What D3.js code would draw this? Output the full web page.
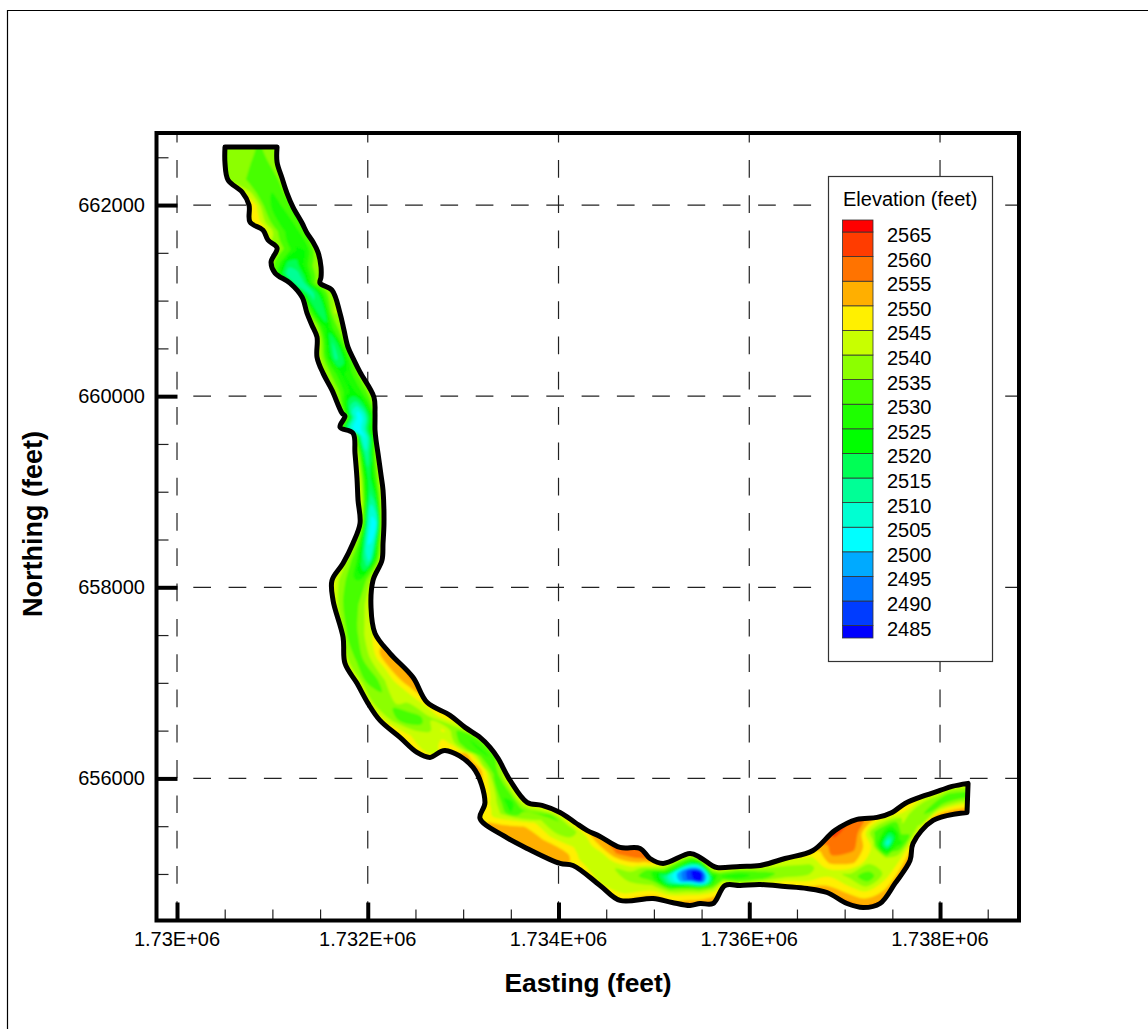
<!DOCTYPE html>
<html>
<head>
<meta charset="utf-8">
<script src="https://d3js.org/d3.v7.min.js"></script>
<style>
  html, body { margin: 0; padding: 0; background: #fff; }
  svg { display: block; }
  text { font-family: "Liberation Sans", Arial, sans-serif; fill: #000; }
</style>
</head>
<body>
<div id="chart"></div>
<script>
// tick values + labels
var xMajor = [1730000, 1732000, 1734000, 1736000, 1738000]
var xMajorLabels = ["1.73E+06", "1.732E+06", "1.734E+06", "1.736E+06", "1.738E+06"]
var xMinor = [1730500, 1731000, 1731500, 1732500, 1733000, 1733500, 1734500, 1735000, 1735500, 1736500, 1737000, 1737500, 1738500]
var yMajor = [662000, 660000, 658000, 656000]
var yMinor = [662500, 661500, 661000, 660500, 659500, 659000, 658500, 657500, 657000, 656500, 655500, 655000]

// legend: contour levels, band colours run low -> high (one more colour than levels)
var levels = [2485, 2490, 2495, 2500, 2505, 2510, 2515, 2520, 2525, 2530, 2535, 2540, 2545, 2550, 2555, 2560, 2565]
var bandColors = ["#0000ff", "#003cff", "#0078ff", "#00aaff", "#00ffff", "#00ffd2", "#00ff96", "#00ff55", "#00ff00", "#1eff00",
                  "#46ff00", "#8cff00", "#c8ff00", "#fff000", "#ffaf00", "#ff7300", "#ff3c00", "#ff0000"]

// river banks at each cross section, going downstream (feet)
var leftEast = [1730503,1730503,1730535,1730682,1730755,1730765,1730902,1730954,1731049,1730986,1731028,1731185,1731311,1731363,1731415,1731468,1731468,
  1731531,1731625,1731730,1731761,1731709,1731845,1731866,1731887,1731898,1731919,1731845,1731741,1731625,1731636,1731741,1731761,1731887,
  1732003,1732128,1732338,1732516,1732653,1732810,1733104,1733229,1733177,1733418,1733670,1734016,1734152,1734435,1734645,1734991,1735190,
  1735379,1735484,1735620,1735746,1735903,1736113,1736375,1736606,1736815,1737025,1737193,1737371,1737528,1737686,1737717,1737927,1738283]
var leftNorth = [662607,662440,662262,662136,662000,661822,661738,661634,661550,661403,661288,661183,661037,660869,660743,660618,660408,
  660241,660063,659822,659791,659675,659613,659403,659141,658911,658670,658461,658251,658073,657864,657477,657204,656995,
  656785,656607,656429,656272,656220,656293,656115,655749,655581,655403,655267,655110,655089,654880,654723,654744,654702,
  654670,654691,654691,654880,654880,654890,654869,654848,654806,654691,654649,654691,654901,655142,655320,655560,655644]
var rightEast = [1731049,1731049,1731101,1731153,1731216,1731311,1731363,1731426,1731478,1731510,1731510,1731499,1731625,1731709,1731751,1731793,1731856,
  1731919,1732065,1732076,1732076,1732076,1732087,1732107,1732139,1732160,1732170,1732160,1732149,1732055,1732034,1732076,1732233,1732474,
  1732621,1732862,1733020,1733177,1733282,1733366,1733492,1733670,1733827,1734016,1734173,1734299,1734435,1734645,1734855,1734959,1735096,
  1735379,1735484,1735609,1735662,1735903,1736113,1736375,1736668,1736899,1737130,1737340,1737497,1737633,1737843,1738000,1738126,1738294]
var rightNorth = [662607,662450,662283,662126,661979,661812,661707,661613,661508,661351,661246,661183,661110,660869,660691,660513,660377,
  660251,659990,659822,659749,659644,659539,659403,659173,659016,658670,658461,658283,658073,657791,657518,657309,657058,
  656796,656660,656534,656429,656325,656210,655979,655749,655717,655644,655539,655456,655393,655278,655267,655162,655110,
  655215,655173,655089,655068,655079,655089,655162,655246,655456,655571,655592,655644,655738,655822,655874,655916,655948]

// bed elevation (feet) at 7 stations across each cross section, left bank -> right bank
var elevation = [
  [2538,2535,2538,2536,2534,2537,2538],
  [2539,2535,2538,2535,2533,2535,2537],
  [2540,2536,2535,2532,2531,2533,2537],
  [2546,2541,2534,2531,2530,2532,2537],
  [2549,2545,2535,2530,2529,2531,2536],
  [2549,2547,2538,2531,2528,2530,2535],
  [2547,2542,2535,2530,2528,2530,2535],
  [2542,2538,2533,2527,2526,2530,2538],
  [2538,2535,2530,2524,2525,2532,2540],
  [2538,2531,2518,2518,2526,2535,2542],
  [2535,2520,2510,2513,2522,2533,2540],
  [2530,2514,2510,2516,2526,2535,2540],
  [2535,2520,2513,2518,2529,2536,2540],
  [2540,2530,2520,2515,2530,2540,2540],
  [2543,2537,2527,2523,2530,2535,2538],
  [2544,2535,2524,2515,2520,2530,2538],
  [2544,2536,2525,2514,2517,2528,2537],
  [2542,2536,2530,2524,2526,2532,2538],
  [2540,2535,2527,2523,2526,2533,2540],
  [2540,2524,2508,2503,2510,2523,2535],
  [2540,2522,2507,2502,2508,2522,2534],
  [2541,2520,2506,2502,2507,2522,2532],
  [2542,2525,2509,2504,2511,2525,2535],
  [2545,2537,2520,2511,2518,2532,2542],
  [2546,2540,2526,2518,2525,2535,2545],
  [2546,2540,2524,2514,2520,2535,2546],
  [2543,2530,2510,2502,2504,2530,2545],
  [2542,2535,2520,2504,2506,2530,2545],
  [2543,2536,2530,2518,2510,2530,2546],
  [2548,2540,2535,2532,2530,2535,2543],
  [2547,2538,2533,2532,2535,2540,2543],
  [2541,2534,2530,2536,2540,2543,2546],
  [2544,2537,2533,2538,2544,2552,2553],
  [2546,2535,2533,2540,2546,2553,2556],
  [2546,2535,2537,2541,2540,2543,2548],
  [2548,2539,2531,2531,2538,2545,2547],
  [2548,2545,2542,2541,2546,2536,2544],
  [2547,2544,2545,2548,2535,2530,2538],
  [2548,2545,2546,2550,2534,2529,2538],
  [2552,2556,2553,2545,2535,2530,2538],
  [2557,2552,2546,2536,2533,2540,2545],
  [2547,2544,2538,2529,2530,2540,2546],
  [2549,2546,2540,2530,2534,2542,2547],
  [2553,2553,2551,2547,2540,2533,2549],
  [2553,2554,2550,2544,2537,2537,2550],
  [2554,2553,2549,2545,2542,2542,2551],
  [2548,2546,2543,2542,2544,2550,2554],
  [2546,2543,2540,2541,2546,2555,2557],
  [2550,2544,2541,2537,2546,2556,2558],
  [2553,2546,2540,2532,2531,2546,2556],
  [2551,2546,2536,2515,2512,2535,2548],
  [2553,2548,2534,2487,2486,2524,2548],
  [2553,2547,2533,2482,2480,2516,2547],
  [2553,2550,2543,2530,2520,2535,2546],
  [2547,2542,2535,2530,2535,2542,2547],
  [2546,2538,2531,2528,2531,2538,2545],
  [2546,2540,2533,2532,2535,2540,2545],
  [2550,2546,2540,2537,2538,2543,2546],
  [2552,2546,2541,2537,2541,2545,2552],
  [2555,2547,2543,2552,2557,2559,2562],
  [2557,2547,2538,2552,2556,2558,2558],
  [2556,2546,2531,2541,2544,2534,2550],
  [2556,2548,2541,2540,2505,2528,2550],
  [2553,2548,2542,2528,2538,2542,2550],
  [2556,2551,2546,2541,2536,2536,2546],
  [2554,2548,2542,2537,2533,2537,2546],
  [2556,2549,2541,2534,2531,2537,2545],
  [2557,2550,2542,2534,2532,2538,2545]
]

var width = 1148, height = 1029
var frame = {left: 156.5, right: 1019, top: 133, bottom: 920.5}

var x = d3.scaleLinear().domain([1729785, 1738828]).range([frame.left, frame.right])
var y = d3.scaleLinear().domain([654513, 662754]).range([frame.bottom, frame.top])

var svg = d3.select("#chart").append("svg")
  .attr("width", width)
  .attr("height", height)

// page border, only top and left show in the picture
svg.append("path")
  .attr("d", d3.line()([[width, 10.5], [7.5, 10.5], [7.5, height]]))
  .attr("fill", "none")
  .attr("stroke", "#000")
  .attr("stroke-width", 1.2)

// dashed grid
svg.append("g").selectAll("line").data(xMajor).enter().append("line")
  .attr("x1", function(d){ return x(d) })
  .attr("x2", function(d){ return x(d) })
  .attr("y1", frame.bottom - 1.5)
  .attr("y2", frame.top)
  .attr("stroke", "#222")
  .attr("stroke-width", 1.2)
  .attr("stroke-dasharray", "17.7 17.6")

svg.append("g").selectAll("line").data(yMajor).enter().append("line")
  .attr("y1", function(d){ return y(d) })
  .attr("y2", function(d){ return y(d) })
  .attr("x1", frame.left + 1.5)
  .attr("x2", frame.right)
  .attr("stroke", "#222")
  .attr("stroke-width", 1.2)
  .attr("stroke-dasharray", "17.7 17.6")

// curvilinear mesh: grid position -> bank-to-bank position in feet -> pixels
var nx = elevation[0].length, ny = elevation.length

function meshPoint(p){
  var u = Math.max(0, Math.min(nx - 1, p[0] - 0.5)) / (nx - 1)
  var v = Math.max(0, Math.min(ny - 1, p[1] - 0.5))
  var j = Math.min(ny - 2, Math.floor(v)), t = v - j
  var e = d3.interpolateNumber(
    leftEast[j] + (rightEast[j] - leftEast[j]) * u,
    leftEast[j + 1] + (rightEast[j + 1] - leftEast[j + 1]) * u)(t)
  var n = d3.interpolateNumber(
    leftNorth[j] + (rightNorth[j] - leftNorth[j]) * u,
    leftNorth[j + 1] + (rightNorth[j + 1] - leftNorth[j + 1]) * u)(t)
  return [x(e), y(n)]
}

// bank outline: each bank as a smooth line, straight across both ends
var bankCurve = d3.line().curve(d3.curveCatmullRom.alpha(0.5))
var leftPts = leftEast.map(function(d, i){ return [x(d), y(leftNorth[i])] })
var rightPts = rightEast.map(function(d, i){ return [x(d), y(rightNorth[i])] }).reverse()
var bankPath = bankCurve(leftPts) + bankCurve(rightPts).replace("M", "L") + "Z"

svg.append("clipPath").attr("id", "river")
  .append("path").attr("d", bankPath)

var blur = svg.append("filter").attr("id", "soft")
  .attr("x", "-5%").attr("y", "-5%").attr("width", "110%").attr("height", "110%")
blur.append("feGaussianBlur").attr("stdDeviation", 0.8)

var bands = svg.append("g").attr("clip-path", "url(#river)")
  .append("g").attr("filter", "url(#soft)")

// where the smoothed bank bulges past the mesh, show the usual bank colour
bands.append("path")
  .attr("d", bankPath)
  .attr("fill", bandColors[13])
  .attr("stroke", bandColors[13])
  .attr("stroke-width", 4)

// first threshold sits below every value so the whole mesh gets the deepest colour
var contours = d3.contours().size([nx, ny]).thresholds([2400].concat(levels))(d3.merge(elevation))
var ringLine = d3.line().curve(d3.curveCatmullRomClosed.alpha(0.5))

bands.selectAll(".band").data(contours).enter().append("path")
  .attr("class", "band")
  .attr("fill-rule", "evenodd")
  .attr("fill", function(d, i){ return bandColors[i] })
  .attr("d", function(d){
    var out = ""
    d.coordinates.forEach(function(polygon){
      polygon.forEach(function(ring){
        out += ringLine(ring.slice(0, -1).map(meshPoint))
      })
    })
    return out
  })

svg.append("path")
  .attr("d", bankPath)
  .attr("fill", "none")
  .attr("stroke", "#000")
  .attr("stroke-width", 5)
  .attr("stroke-linejoin", "round")

// axes
var xAxisMinor = svg.append("g").attr("transform", "translate(0," + frame.bottom + ")")
  .call(d3.axisTop(x).tickValues(xMinor).tickSize(11).tickFormat(""))
var xAxisMajor = svg.append("g").attr("transform", "translate(0," + frame.bottom + ")")
  .call(d3.axisTop(x).tickValues(xMajor).tickSize(18).tickFormat(""))
var yAxisMinor = svg.append("g").attr("transform", "translate(" + frame.left + ",0)")
  .call(d3.axisRight(y).tickValues(yMinor).tickSize(12).tickFormat(""))
var yAxisMajor = svg.append("g").attr("transform", "translate(" + frame.left + ",0)")
  .call(d3.axisRight(y).tickValues(yMajor).tickSize(21).tickFormat(""))

;[xAxisMinor, xAxisMajor, yAxisMinor, yAxisMajor].forEach(function(a){ a.select(".domain").remove() })
xAxisMinor.selectAll("line").attr("stroke", "#222").attr("stroke-width", 1.2)
yAxisMinor.selectAll("line").attr("stroke", "#222").attr("stroke-width", 1.2)
xAxisMajor.selectAll("line").attr("stroke", "#000").attr("stroke-width", 4)
yAxisMajor.selectAll("line").attr("stroke", "#000").attr("stroke-width", 4)

svg.append("g").selectAll("text").data(xMajor).enter().append("text")
  .attr("x", function(d){ return x(d) })
  .attr("y", 946)
  .attr("text-anchor", "middle")
  .attr("font-size", 20)
  .text(function(d, i){ return xMajorLabels[i] })

svg.append("g").selectAll("text").data(yMajor).enter().append("text")
  .attr("x", 145)
  .attr("y", function(d){ return y(d) + 7 })
  .attr("text-anchor", "end")
  .attr("font-size", 20)
  .text(function(d){ return d })

svg.append("text")
  .attr("x", 588)
  .attr("y", 992)
  .attr("text-anchor", "middle")
  .attr("font-size", 26.4)
  .attr("font-weight", "bold")
  .text("Easting (feet)")

svg.append("text")
  .attr("transform", "translate(42,524) rotate(-90)")
  .attr("text-anchor", "middle")
  .attr("font-size", 27)
  .attr("font-weight", "bold")
  .text("Northing (feet)")

// frame
svg.append("rect")
  .attr("x", frame.left)
  .attr("y", frame.top)
  .attr("width", frame.right - frame.left)
  .attr("height", frame.bottom - frame.top)
  .attr("fill", "none")
  .attr("stroke", "#000")
  .attr("stroke-width", 4)

// legend
var legend = svg.append("g")
var legendY = d3.scaleLinear().domain([2565, 2485]).range([232, 625.6])

legend.append("rect")
  .attr("x", 828.5).attr("y", 176.5)
  .attr("width", 164).attr("height", 485)
  .attr("fill", "#fff")
  .attr("stroke", "#333")
  .attr("stroke-width", 1.2)

legend.append("text")
  .attr("x", 843).attr("y", 206)
  .attr("font-size", 20)
  .text("Elevation (feet)")

var swatchEdges = [638].concat(levels.map(legendY)).concat([220])

legend.selectAll(".swatch").data(bandColors).enter().append("rect")
  .attr("class", "swatch")
  .attr("x", 842.5)
  .attr("width", 30.5)
  .attr("y", function(d, i){ return swatchEdges[i + 1] })
  .attr("height", function(d, i){ return swatchEdges[i] - swatchEdges[i + 1] })
  .attr("fill", function(d){ return d })
  .attr("stroke", "#333")
  .attr("stroke-width", 0.8)

legend.selectAll(".lab").data(levels).enter().append("text")
  .attr("class", "lab")
  .attr("x", 887)
  .attr("y", function(d){ return legendY(d) + 10 })
  .attr("font-size", 20)
  .text(function(d){ return d })
</script>
</body>
</html>
